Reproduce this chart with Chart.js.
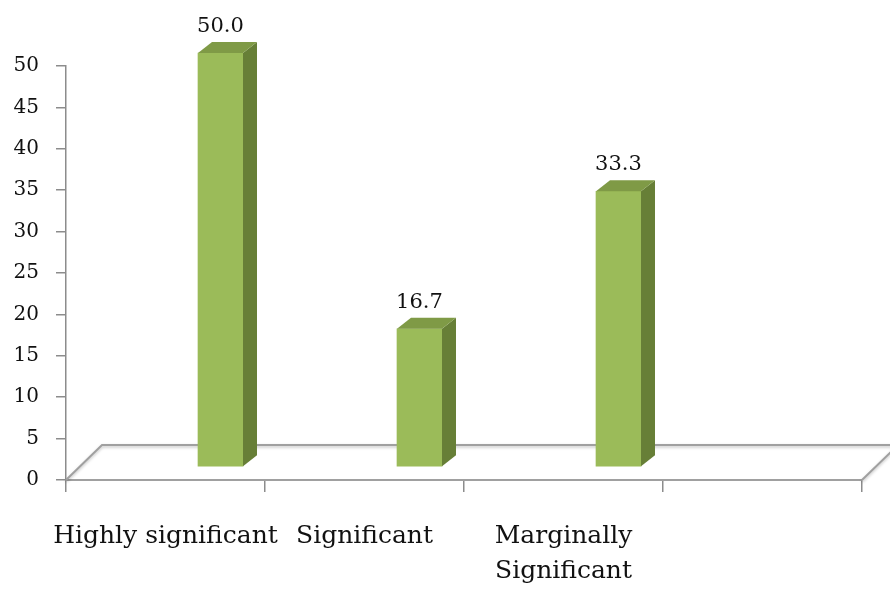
<!DOCTYPE html>
<html>
<head>
<meta charset="utf-8">
<script src="https://cdn.jsdelivr.net/npm/chart.js@4/dist/chart.umd.min.js"></script>
<style>
  html, body { margin: 0; padding: 0; background: #ffffff; }
  #wrap { width: 890px; height: 597px; }
</style>
</head>
<body>
<div id="wrap"><canvas id="c" width="890" height="597"></canvas></div>
<script>
// Categories along the floor (the fourth slot is left empty)
const categories = ['Highly significant', 'Significant', ['Marginally', 'Significant'], ''];
// Share of results in each significance class (%)
const percentages = [50.0, 16.7, 33.3];
// Value axis tick labels
const yTickValues = [0, 5, 10, 15, 20, 25, 30, 35, 40, 45, 50];

const FRONT = '#9BBB59', SIDE = '#677F37', TOP = '#7F9A46';
const AXIS = '#8C8C8C', FLOOR_LINE = '#A0A0A0', TEXT = '#111111';
const SERIF = "'DejaVu Serif', 'Liberation Serif', serif";

// pseudo-3D geometry
const SHIFT_X = 55, SHIFT_Y = -13;   // bars stand in the middle of the floor depth
const DEPTH_X = 14, DEPTH_Y = 11;    // column depth
const FLOOR_X = 36, FLOOR_Y = 35;    // floor depth

const column3d = {
  id: 'column3d',
  beforeDatasetsDraw(chart) {
    const { ctx, chartArea: a } = chart;
    // floor outline
    ctx.save();
    ctx.strokeStyle = FLOOR_LINE;
    ctx.lineWidth = 2;
    ctx.shadowColor = 'rgba(0,0,0,0.25)';
    ctx.shadowBlur = 3;
    ctx.shadowOffsetY = 1.5;
    ctx.beginPath();
    ctx.moveTo(a.left, a.bottom);
    ctx.lineTo(a.left + FLOOR_X, a.bottom - FLOOR_Y);
    ctx.lineTo(chart.width + 20, a.bottom - FLOOR_Y);
    ctx.moveTo(a.right, a.bottom);
    ctx.lineTo(a.right + FLOOR_X, a.bottom - FLOOR_Y);
    ctx.stroke();
    ctx.restore();
    // columns are drawn shifted into the floor
    ctx.save();
    ctx.translate(SHIFT_X, SHIFT_Y);
  },
  afterDatasetsDraw(chart) {
    const { ctx } = chart;
    const meta = chart.getDatasetMeta(0);
    const values = chart.data.datasets[0].data;
    meta.data.forEach((bar, i) => {
      const { x, y, base, width } = bar.getProps(['x', 'y', 'base', 'width'], true);
      const l = x - width / 2, r = x + width / 2;
      // side face
      ctx.fillStyle = SIDE;
      ctx.beginPath();
      ctx.moveTo(r, base);
      ctx.lineTo(r + DEPTH_X, base - DEPTH_Y);
      ctx.lineTo(r + DEPTH_X, y - DEPTH_Y);
      ctx.lineTo(r, y);
      ctx.closePath();
      ctx.fill();
      // top face
      ctx.fillStyle = TOP;
      ctx.beginPath();
      ctx.moveTo(l, y);
      ctx.lineTo(l + DEPTH_X, y - DEPTH_Y);
      ctx.lineTo(r + DEPTH_X, y - DEPTH_Y);
      ctx.lineTo(r, y);
      ctx.closePath();
      ctx.fill();
      // value label
      ctx.fillStyle = TEXT;
      ctx.font = '21px ' + SERIF;
      ctx.textAlign = 'center';
      ctx.textBaseline = 'alphabetic';
      ctx.fillText(Number(values[i]).toFixed(1), x, y - DEPTH_Y - 10);
    });
    ctx.restore();
  }
};

new Chart(document.getElementById('c'), {
  type: 'bar',
  data: {
    labels: categories,
    datasets: [{
      data: percentages,
      backgroundColor: FRONT,
      borderWidth: 0,
      barThickness: 45,
      clip: false
    }]
  },
  options: {
    responsive: false,
    animation: false,
    devicePixelRatio: 1,
    layout: { padding: { top: 66, right: 28, left: 0, bottom: 0 } },
    plugins: { legend: { display: false }, tooltip: { enabled: false } },
    scales: {
      x: {
        type: 'category',
        offset: true,
        grid: { offset: true, drawOnChartArea: false, tickLength: 12, color: AXIS, lineWidth: 1.5 },
        border: { color: FLOOR_LINE, width: 2 },
        ticks: {
          color: TEXT, padding: 27, maxRotation: 0, autoSkip: false,
          font: { family: SERIF, size: 25, lineHeight: 1.4 }
        },
        afterFit(s) { s.height = 117; }
      },
      y: {
        min: 0, max: 50,
        grid: { drawOnChartArea: false, tickLength: 10, color: AXIS, lineWidth: 1.5 },
        border: { color: AXIS, width: 1.5 },
        ticks: { color: TEXT, padding: 17, font: { family: SERIF, size: 20 } },
        afterBuildTicks(s) { s.ticks = yTickValues.map(v => ({ value: v })); },
        afterFit(s) { s.width = 66; }
      }
    }
  },
  plugins: [column3d]
});
</script>
</body>
</html>
